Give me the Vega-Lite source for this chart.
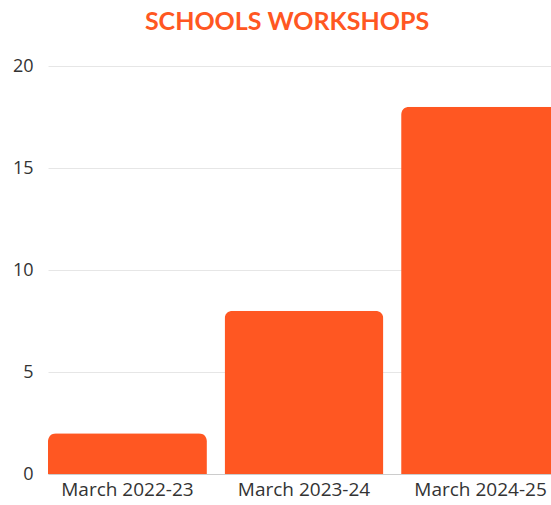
{
  "$schema": "https://vega.github.io/schema/vega-lite/v6.json",
  "autosize": "none",
  "width": 512,
  "height": 408,
  "padding": {"left": 48, "top": 66, "right": 0, "bottom": 31},
  "background": "white",
  "title": {
    "text": "SCHOOLS WORKSHOPS",
    "color": "#FF5722",
    "font": "Lato",
    "fontSize": 25,
    "fontWeight": "bold",
    "anchor": "middle",
    "dx": -17,
    "offset": 22
  },
  "data": {
    "values": [
      {"period": "March 2022-23", "count": 2},
      {"period": "March 2023-24", "count": 8},
      {"period": "March 2024-25", "count": 18}
    ]
  },
  "mark": {"type": "bar", "color": "#FF5722", "cornerRadiusTopLeft": 8, "cornerRadiusTopRight": 8},
  "encoding": {
    "x": {
      "field": "period",
      "type": "nominal",
      "sort": null,
      "scale": {"paddingInner": 0.1, "paddingOuter": 0},
      "axis": {
        "title": null,
        "labelAngle": 0,
        "labelFont": "Open Sans",
        "labelFontSize": 19,
        "labelColor": "#333333",
        "ticks": false,
        "domain": true,
        "domainColor": "#cccccc",
        "labelPadding": 6
      }
    },
    "y": {
      "field": "count",
      "type": "quantitative",
      "scale": {"domain": [0, 20]},
      "axis": {
        "title": null,
        "values": [0, 5, 10, 15, 20],
        "labelFont": "Open Sans",
        "labelFontSize": 18,
        "labelColor": "#333333",
        "ticks": false,
        "domain": false,
        "grid": true,
        "gridColor": "#e6e6e6",
        "labelPadding": 15
      }
    }
  },
  "config": {"view": {"stroke": null}}
}
